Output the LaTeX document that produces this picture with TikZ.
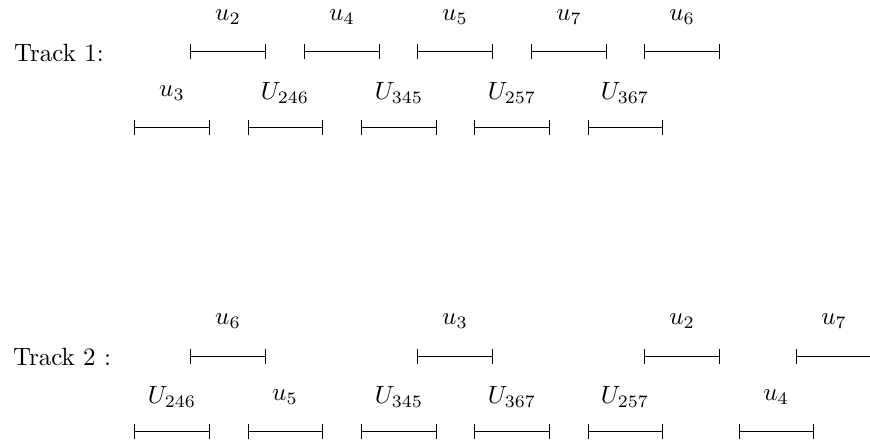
\documentclass[tikz,border=0pt]{standalone}
\usetikzlibrary{arrows.meta}
\begin{document}
\begin{tikzpicture}[x=0.4pt,y=-0.4pt,
  seg/.style={line width=0.4pt,{Bar[width=6pt]}-{Bar[width=6pt]}},
  lab/.style={inner sep=0pt,anchor=center}]
\useasboundingbox (0,0) rectangle (870,445);
\node[lab] (t1) at (59,53) {Track 1:};
\node[lab] (t2) at (62,357) {Track 2 :};
% name / x-left / x-right / y / label / label y
\foreach \n/\a/\b/\y/\l/\ly in {
  p1/190/266/52/{u_2}/17, p2/304/380/52/{u_4}/17, p3/417/493/52/{u_5}/17,
  p4/531/607/52/{u_7}/17, p5/644/720/52/{u_6}/17,
  q1/134/210/128/{u_3}/93, q2/248/323/128/{U_{246}}/93, q3/361/437/128/{U_{345}}/93,
  q4/474/550/128/{U_{257}}/93, q5/588/663/128/{U_{367}}/93,
  r1/190/266/356/{u_6}/321, r2/417/493/356/{u_3}/321, r3/644/720/356/{u_2}/321,
  r4/796/948/356/{u_7}/321,
  s1/134/210/431/{U_{246}}/397, s2/248/323/431/{u_5}/397, s3/361/437/431/{U_{345}}/397,
  s4/474/550/431/{U_{367}}/397, s5/588/663/431/{U_{257}}/397, s6/739/814/431/{u_4}/397}
{
  \coordinate (\n a) at (\a,\y);
  \coordinate (\n b) at (\b,\y);
  \draw[seg] (\n a) -- (\n b);
}
\foreach \n/\x/\ly/\l in {
  p1/228/17/{u_2}, p2/342/17/{u_4}, p3/455/17/{u_5}, p4/569/17/{u_7}, p5/682/17/{u_6},
  q1/172/93/{u_3}, q2/285/93/{U_{246}}, q3/399/93/{U_{345}}, q4/512/93/{U_{257}}, q5/625/93/{U_{367}},
  r1/228/321/{u_6}, r2/455/321/{u_3}, r3/682/321/{u_2}, r4/834/321/{u_7},
  s1/172/397/{U_{246}}, s2/285/397/{u_5}, s3/399/397/{U_{345}}, s4/512/397/{U_{367}}, s5/625/397/{U_{257}}, s6/776/397/{u_4}}
{
  \node[lab] (\n l) at (\x,\ly) {$\l$};
}
\end{tikzpicture}
\end{document}
